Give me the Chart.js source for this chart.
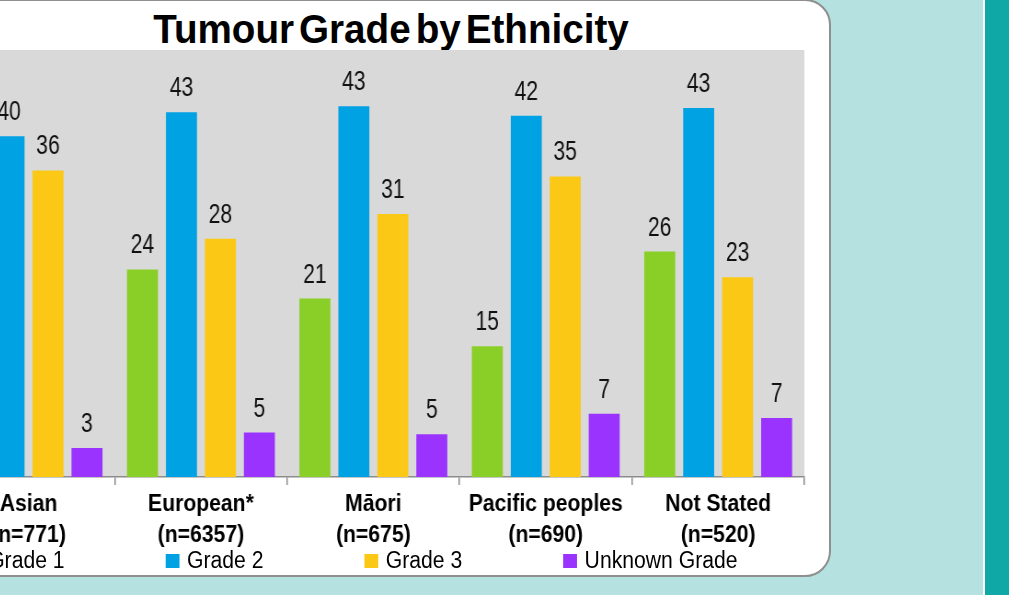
<!DOCTYPE html>
<html>
<head>
<meta charset="utf-8">
<script src="https://cdn.jsdelivr.net/npm/chart.js@4.4.1/dist/chart.umd.min.js"></script>
<style>
  html, body { margin: 0; padding: 0; }
  body { width: 1009px; height: 595px; overflow: hidden; position: relative; background: #b5e2e1; font-family: "Liberation Sans", Arial, sans-serif; }
  #strip { position: absolute; left: 983px; top: 0; width: 26px; height: 595px; background: #10a8a6; border-left: 2px solid #ffffff; box-sizing: border-box; }
  #box { position: absolute; left: -60px; top: -1px; width: 891px; height: 578px; background: #fff; border: 2px solid #8f8f8f; border-radius: 26px; box-sizing: border-box; }
  #title { position: absolute; left: 0; top: 9px; width: 782px; text-align: center; font-weight: bold; font-size: 40px; line-height: 40px; word-spacing: -6px; color: #000; transform: scaleX(0.966); }
  #wrap { position: absolute; left: -100px; top: 0; width: 1000px; height: 578px; transform: scaleX(0.92); transform-origin: 0 0; }
  #legend { position: absolute; left: -33px; top: 549px; display: flex; align-items: center; transform: scaleX(0.92); transform-origin: 0 0; font-size: 23px; line-height: 23px; color: #000; white-space: nowrap; }
  #legend .item { display: flex; align-items: center; margin-right: 110px; }
  #legend .sw { width: 15px; height: 14px; margin-right: 8px; }
</style>
</head>
<body>
<div id="strip"></div>
<div id="box"></div>
<div id="title">Tumour Grade by Ethnicity</div>
<div id="wrap"><canvas id="myChart"></canvas></div>
<div id="legend"></div>
<script>
'use strict';

let categories = ['Asian', 'European*', 'Māori', 'Pacific peoples', 'Not Stated'];
let counts = [771, 6357, 675, 690, 520];

let seriesNames = ['Grade 1', 'Grade 2', 'Grade 3', 'Unknown Grade'];
let grade1 = [21, 24.3, 20.9, 15.3, 26.4];
let grade2 = [39.9, 42.7, 43.4, 42.3, 43.2];
let grade3 = [35.9, 27.9, 30.8, 35.2, 23.4];
let unknownGrade = [3.4, 5.2, 5.0, 7.4, 6.9];
let colours = ['#89cf27', '#00a2e3', '#fbc815', '#9b33ff'];

let yMin = 0;
let yMax = 50;

let labels = [];
for (let i = 0; i < categories.length; i++) {
  labels.push([categories[i], `(n=${counts[i]})`]);
}

let allSeries = [grade1, grade2, grade3, unknownGrade];
let datasets = [];
for (let i = 0; i < allSeries.length; i++) {
  datasets.push({
    label: seriesNames[i],
    data: allSeries[i],
    backgroundColor: colours[i],
    borderWidth: 0,
    categoryPercentage: 0.904,
    barPercentage: 0.795
  });
}

// legend as plain html, same order as the datasets
let legend = document.getElementById('legend');
for (let i = 0; i < seriesNames.length; i++) {
  let item = document.createElement('div');
  item.className = 'item';
  let sw = document.createElement('span');
  sw.className = 'sw';
  sw.style.background = colours[i];
  let txt = document.createElement('span');
  txt.textContent = seriesNames[i];
  item.appendChild(sw);
  item.appendChild(txt);
  legend.appendChild(item);
}

// grey plot background
let plotBg = {
  id: 'plotBg',
  beforeDraw(chart) {
    let a = chart.chartArea;
    let ctx = chart.ctx;
    ctx.save();
    ctx.fillStyle = '#d9d9d9';
    ctx.fillRect(a.left, a.top, a.right - a.left, a.bottom - a.top);
    ctx.restore();
  }
};

// value above each bar
let barValues = {
  id: 'barValues',
  afterDatasetsDraw(chart) {
    let ctx = chart.ctx;
    ctx.save();
    ctx.font = '27px "Liberation Sans", Arial, sans-serif';
    ctx.fillStyle = '#111';
    ctx.textAlign = 'center';
    ctx.textBaseline = 'alphabetic';
    chart.data.datasets.forEach((ds, i) => {
      let meta = chart.getDatasetMeta(i);
      meta.data.forEach((bar, j) => {
        ctx.save();
        ctx.translate(bar.x, bar.y - 16);
        ctx.scale(0.85, 1);
        ctx.fillText(Math.round(ds.data[j]), 0, 0);
        ctx.restore();
      });
    });
    ctx.restore();
  }
};

let ctx = document.getElementById('myChart').getContext('2d');
let myChart = new Chart(ctx, {
  type: 'bar',
  data: {
    labels: labels,
    datasets: datasets
  },
  plugins: [plotBg, barValues],
  options: {
    responsive: true,
    maintainAspectRatio: false,
    animation: false,
    layout: {
      padding: { left: 46, right: 17, top: 50, bottom: 0 }
    },
    plugins: {
      legend: { display: false },
      title: { display: false },
      tooltip: { enabled: false }
    },
    scales: {
      x: {
        grid: {
          drawOnChartArea: false,
          drawTicks: true,
          tickLength: 8,
          color: '#8c8c8c',
          lineWidth: 1.5
        },
        border: { color: '#8c8c8c', width: 1.5 },
        ticks: {
          color: '#000',
          padding: 4,
          maxRotation: 0,
          font: { family: '"Liberation Sans", Arial, sans-serif', size: 23, weight: 'bold', lineHeight: 1.34 }
        },
        afterFit(scale) {
          scale.height = 101;
        }
      },
      y: {
        display: false,
        min: yMin,
        max: yMax
      }
    }
  }
});
</script>
</body>
</html>
